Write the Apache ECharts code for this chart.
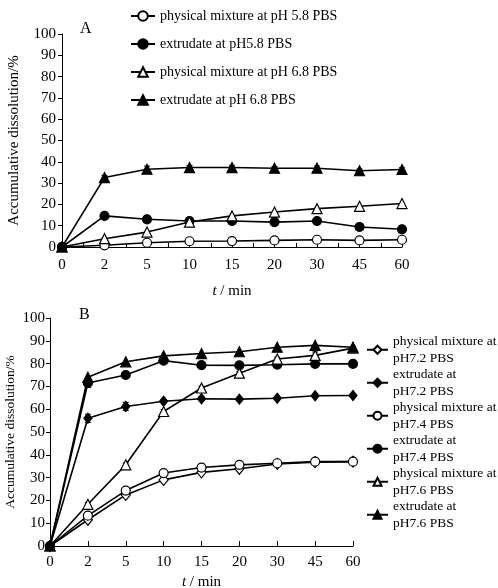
<!DOCTYPE html>
<html>
<head>
<meta charset="utf-8">
<script src="https://cdn.jsdelivr.net/npm/echarts@6/dist/echarts.min.js"></script>
<style>
html, body { margin: 0; padding: 0; background: #fff; }
#chart { width: 498px; height: 588px; }
</style>
</head>
<body>
<div id="chart"></div>
<script>
// Sampling times (min), shared by both panels
const timePoints = ['0', '2', '5', '10', '15', '20', '30', '45', '60'];

// Panel A: dissolution in pH 5.8 and pH 6.8 PBS (%)
const namesA = [
  'physical mixture at pH 5.8 PBS',
  'extrudate at pH5.8 PBS',
  'physical mixture at pH 6.8 PBS',
  'extrudate at pH 6.8 PBS'
];
const physMix58 = [0, 0.8, 2.0, 2.7, 2.8, 3.1, 3.4, 3.1, 3.4];
const extr58    = [0, 14.6, 13.0, 12.2, 12.2, 11.7, 12.2, 9.4, 8.3];
const physMix68 = [0, 3.9, 7.0, 11.7, 14.6, 16.4, 18.0, 19.1, 20.4];
const extr68    = [0, 32.6, 36.5, 37.3, 37.3, 37.0, 37.0, 35.8, 36.4];
const extr68Err = [0, 1.0, 1.5, 1.0, 1.0, 0.8, 1.0, 0.8, 0.8];

// Panel B: dissolution in pH 7.2, 7.4 and 7.6 PBS (%)
const namesB = [
  'physical mixture at\npH7.2 PBS',
  'extrudate at\npH7.2 PBS',
  'physical mixture at\npH7.4 PBS',
  'extrudate at\npH7.4 PBS',
  'physical mixture at\npH7.6 PBS',
  'extrudate at\npH7.6 PBS'
];
const physMix72 = [0, 11.5, 22.4, 29.0, 32.3, 33.9, 36.0, 36.8, 37.0];
const extr72    = [0, 56.0, 61.2, 63.5, 64.6, 64.4, 64.8, 65.9, 66.0];
const extr72Err = [0, 1.8, 1.8, 0.8, 0.8, 0.8, 0.6, 0.6, 0.6];
const physMix74 = [0, 13.3, 24.3, 32.0, 34.4, 35.6, 36.3, 37.0, 37.0];
const extr74    = [0, 71.5, 75.0, 81.3, 79.3, 79.2, 79.5, 79.9, 79.9];
const extr74Err = [0, 2.0, 0.8, 0.8, 0.8, 0.8, 0.8, 0.8, 1.5];
const physMix76 = [0, 18.3, 35.6, 59.0, 69.3, 75.8, 82.0, 83.6, 86.8];
const physMix76Err = [0, 0.8, 0.8, 0.8, 0.8, 0.8, 0.8, 1.5, 0.8];
const extr76    = [0, 74.0, 80.8, 83.4, 84.4, 85.2, 87.2, 88.0, 87.2];

const FONT = '"Liberation Serif", "DejaVu Serif", serif';
const BLACK = '#000';

function lineSeries(name, values, symbol, filled, size, xi, yi, asPairs) {
  return {
    type: 'line',
    name: name,
    xAxisIndex: xi,
    yAxisIndex: yi,
    data: asPairs ? values.map((v, i) => [i, v]) : values,
    symbol: symbol,
    symbolSize: size,
    showAllSymbol: true,
    lineStyle: { color: BLACK, width: 1.6 },
    itemStyle: { color: filled ? BLACK : '#fff', borderColor: BLACK, borderWidth: 1.2 },
    emphasis: { disabled: true },
    z: 3
  };
}

// Vertical error bars with short caps
function errorSeries(values, errs, xi, yi) {
  return {
    type: 'custom',
    xAxisIndex: xi,
    yAxisIndex: yi,
    data: values.map((v, i) => [i, v, errs[i]]),
    z: 2,
    silent: true,
    renderItem: function (params, api) {
      const x = api.value(0), y = api.value(1), e = api.value(2);
      if (!e) return null;
      const hi = api.coord([x, y + e]);
      const lo = api.coord([x, y - e]);
      const w = 3;
      const st = { stroke: BLACK, lineWidth: 1 };
      return {
        type: 'group',
        children: [
          { type: 'line', shape: { x1: hi[0], y1: hi[1], x2: lo[0], y2: lo[1] }, style: st },
          { type: 'line', shape: { x1: hi[0] - w, y1: hi[1], x2: hi[0] + w, y2: hi[1] }, style: st },
          { type: 'line', shape: { x1: lo[0] - w, y1: lo[1], x2: lo[0] + w, y2: lo[1] }, style: st }
        ]
      };
    }
  };
}

const yAxisCommon = {
  type: 'value',
  min: 0,
  max: 100,
  interval: 10,
  name: 'Accumulative dissolution/%',
  nameLocation: 'middle',
  nameMoveOverlap: false,
  nameTextStyle: { fontFamily: FONT, fontSize: 15, color: BLACK },
  axisLine: { show: true, lineStyle: { color: BLACK, width: 1 } },
  axisTick: { show: true, length: 4, lineStyle: { color: BLACK } },
  axisLabel: { fontFamily: FONT, fontSize: 15, color: BLACK, margin: 6 },
  splitLine: { show: false }
};

const xNameStyle = {
  fontFamily: FONT, fontSize: 15, color: BLACK,
  rich: { i: { fontFamily: FONT, fontSize: 15, fontStyle: 'italic', color: BLACK } }
};

const chart = echarts.init(document.getElementById('chart'), null, { renderer: 'canvas' });

chart.setOption({
  backgroundColor: '#fff',
  animation: false,
  title: [
    { text: 'A', left: 75, top: 16, textStyle: { fontFamily: FONT, fontSize: 16, fontWeight: 'normal', color: BLACK } },
    { text: 'B', left: 74, top: 302, textStyle: { fontFamily: FONT, fontSize: 16, fontWeight: 'normal', color: BLACK } }
  ],
  legend: [
    {
      data: namesA,
      orient: 'vertical',
      left: 130,
      top: 9,
      padding: 0,
      itemWidth: 24,
      itemHeight: 12,
      itemGap: 14,
      selectedMode: false,
      textStyle: { fontFamily: FONT, fontSize: 14, color: BLACK }
    },
    {
      data: namesB,
      orient: 'vertical',
      left: 366,
      top: 325,
      padding: 0,
      itemWidth: 21,
      itemHeight: 10,
      itemGap: -16.5,
      selectedMode: false,
      textStyle: { fontFamily: FONT, fontSize: 13.5, color: BLACK, lineHeight: 16.5, padding: [16.5, 0, 0, 0] }
    }
  ],
  grid: [
    { left: 62, top: 34, width: 340, height: 213, containLabel: false, outerBoundsMode: 'none' },
    { left: 50, top: 318, width: 303, height: 228, containLabel: false, outerBoundsMode: 'none' }
  ],
  xAxis: [
    {
      gridIndex: 0,
      type: 'value',
      min: 0,
      max: timePoints.length - 1,
      interval: 1,
      name: '{i|t} / min',
      nameLocation: 'middle',
      nameGap: 37,
      nameMoveOverlap: false,
      nameTextStyle: xNameStyle,
      axisLine: { show: true, lineStyle: { color: BLACK, width: 1 } },
      axisTick: { show: true, inside: true, length: 4, lineStyle: { color: BLACK } },
      minorTick: { show: true, splitNumber: 2, length: 4, lineStyle: { color: BLACK, width: 1 } },
      axisLabel: { fontFamily: FONT, fontSize: 15, color: BLACK, margin: 11, formatter: v => timePoints[v] },
      splitLine: { show: false },
      minorSplitLine: { show: false }
    },
    {
      gridIndex: 1,
      type: 'category',
      data: timePoints,
      boundaryGap: false,
      name: '{i|t} / min',
      nameLocation: 'middle',
      nameGap: 29,
      nameMoveOverlap: false,
      nameTextStyle: xNameStyle,
      axisLine: { show: true, lineStyle: { color: BLACK, width: 1 } },
      axisTick: { show: true, inside: true, length: 5, lineStyle: { color: BLACK } },
      axisLabel: { fontFamily: FONT, fontSize: 15, color: BLACK, margin: 9 },
      splitLine: { show: false }
    }
  ],
  yAxis: [
    Object.assign({}, yAxisCommon, { gridIndex: 0, nameGap: 40 }),
    Object.assign({}, yAxisCommon, {
      gridIndex: 1,
      nameGap: 33,
      nameTextStyle: { fontFamily: FONT, fontSize: 13.5, color: BLACK },
      axisLabel: Object.assign({}, yAxisCommon.axisLabel, { margin: 5 })
    })
  ],
  series: [
    errorSeries(extr68, extr68Err, 0, 0),
    lineSeries(namesA[0], physMix58, 'circle', false, 9, 0, 0, true),
    lineSeries(namesA[1], extr58, 'circle', true, 9, 0, 0, true),
    lineSeries(namesA[2], physMix68, 'triangle', false, 10, 0, 0, true),
    lineSeries(namesA[3], extr68, 'triangle', true, 10, 0, 0, true),

    errorSeries(extr72, extr72Err, 1, 1),
    errorSeries(extr74, extr74Err, 1, 1),
    errorSeries(physMix76, physMix76Err, 1, 1),
    lineSeries(namesB[0], physMix72, 'diamond', false, [9, 11], 1, 1, false),
    lineSeries(namesB[1], extr72, 'diamond', true, [8, 10], 1, 1, false),
    lineSeries(namesB[2], physMix74, 'circle', false, 9, 1, 1, false),
    lineSeries(namesB[3], extr74, 'circle', true, 9, 1, 1, false),
    lineSeries(namesB[4], physMix76, 'triangle', false, 10, 1, 1, false),
    lineSeries(namesB[5], extr76, 'triangle', true, 10, 1, 1, false)
  ]
});
</script>
</body>
</html>
